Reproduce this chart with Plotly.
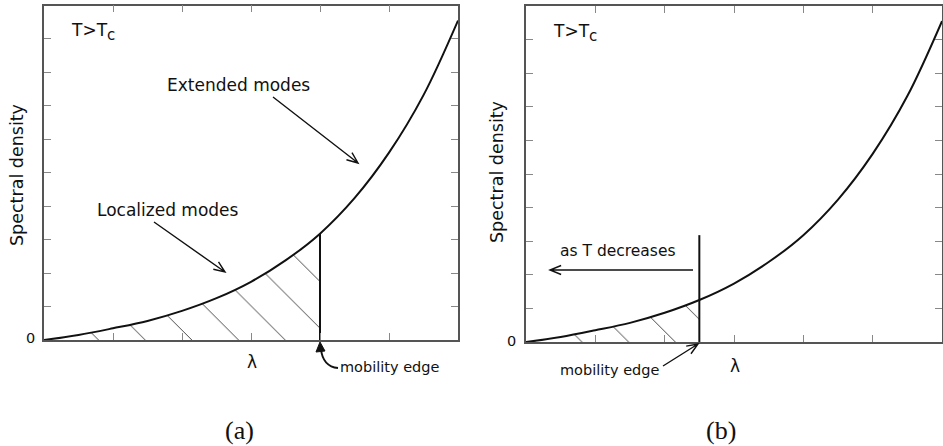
import math
import plotly.graph_objects as go

W, H = 943, 446

# Spectral density curve, sampled along the lambda axis
lam = [0.0, 0.5, 1.0, 1.5, 2.0, 2.5, 3.0, 3.5, 4.0, 4.5, 5.0, 5.5, 6.0]
density = [0.0, 0.15, 0.35, 0.57, 0.87, 1.25, 1.74, 2.38, 3.18, 4.24, 5.6, 7.32, 9.55]

# Mobility edge position in each panel
edge_a = 4.0
edge_b = 2.5
edge_height = density[lam.index(edge_a)]

x_ticks = [0, 1, 2, 3, 4, 5, 6]
y_ticks = list(range(0, 11))

LINE = "#111111"
TXT = "#111111"
FONT = "DejaVu Sans"


def P(x, y):
    """pixel position -> paper coordinates"""
    return x / W, 1 - y / H


def arrow_shapes(x0, y0, x1, y1, head=12, spread=22, width=1.4):
    """straight arrow with an open V head, pixel coordinates"""
    ang = math.atan2(y1 - y0, x1 - x0)
    a = math.radians(spread)
    hx1 = x1 - head * math.cos(ang - a)
    hy1 = y1 - head * math.sin(ang - a)
    hx2 = x1 - head * math.cos(ang + a)
    hy2 = y1 - head * math.sin(ang + a)

    def s(px, py):
        qx, qy = P(px, py)
        return f"{qx:.5f},{qy:.5f}"

    path = (f"M{s(x0, y0)} L{s(x1, y1)} M{s(hx1, hy1)} L{s(x1, y1)} L{s(hx2, hy2)}")
    return dict(type="path", xref="paper", yref="paper", path=path,
                line=dict(color=LINE, width=width))


fig = go.Figure()

pattern = dict(shape="\\", fgcolor="#222222", fgopacity=1, bgcolor="white",
               size=33, solidity=0.025)

for xa, ya, edge in (("x", "y", edge_a), ("x2", "y2", edge_b)):
    xs = [l for l in lam if l <= edge]
    ys = density[:len(xs)]
    # hatched region of localized modes
    fig.add_trace(go.Scatter(x=xs, y=ys, mode="lines", fill="tozeroy",
                             line=dict(width=0, shape="spline", color="rgba(0,0,0,0)"),
                             fillcolor="white", fillpattern=pattern,
                             xaxis=xa, yaxis=ya, hoverinfo="skip", showlegend=False))
    # density curve
    fig.add_trace(go.Scatter(x=lam, y=density, mode="lines",
                             line=dict(color=LINE, width=2, shape="spline"),
                             xaxis=xa, yaxis=ya, showlegend=False))
    # mobility edge
    fig.add_trace(go.Scatter(x=[edge, edge], y=[0, edge_height], mode="lines",
                             line=dict(color=LINE, width=2),
                             xaxis=xa, yaxis=ya, showlegend=False))

axis_common = dict(showline=True, linecolor="#555555", linewidth=1.5, mirror="ticks",
                   ticks="inside", ticklen=7, tickwidth=1.3, tickcolor="#888888",
                   showgrid=False, zeroline=False, showticklabels=False, fixedrange=True)

fig.update_layout(
    width=W, height=H, margin=dict(l=0, r=0, t=0, b=0),
    paper_bgcolor="white", plot_bgcolor="white",
    xaxis=dict(axis_common, domain=[44 / W, 458 / W], range=[0, 6], tickvals=x_ticks, anchor="y"),
    yaxis=dict(axis_common, domain=[1 - 340 / H, 1 - 5.5 / H], range=[0, 10], tickvals=y_ticks, anchor="x"),
    xaxis2=dict(axis_common, domain=[526 / W, 942 / W], range=[0, 6], tickvals=x_ticks, anchor="y2"),
    yaxis2=dict(axis_common, domain=[1 - 342 / H, 1 - 6 / H], range=[0, 10], tickvals=y_ticks, anchor="x2"),
)

ann = []


def text(px, py, s, size, anchor="center", angle=0, family=FONT):
    x, y = P(px, py)
    ann.append(dict(x=x, y=y, xref="paper", yref="paper", text=s, showarrow=False,
                    xanchor=anchor, yanchor="middle", textangle=angle,
                    font=dict(family=family, size=size, color=TXT)))


TC = "T>T<sub><span style='font-size:15px'>c</span></sub>"

# panel (a)
text(69, 32, TC, 17, "left")
text(165, 85, "Extended modes", 17, "left")
text(95, 210, "Localized modes", 17, "left")
text(17, 175, "Spectral density", 17.5, angle=-90)
text(37, 338, "0", 14.5, "right")
text(252, 362, "λ", 17)
text(338, 367, "mobility edge", 14.5, "left")
text(240, 430, "(a)", 26, family="Liberation Serif")

# panel (b)
text(551, 33, TC, 17, "left")
text(497, 172, "Spectral density", 17.5, angle=-90)
text(518, 341, "0", 14.5, "right")
text(735, 366, "λ", 17)
text(609, 370, "mobility edge", 14.5)
text(558, 251, "as T decreases", 15.5, "left")
text(721, 430, "(b)", 26, family="Liberation Serif")

shapes = [
    arrow_shapes(273, 97, 358, 163),
    arrow_shapes(154, 222, 225, 272),
    arrow_shapes(693, 270, 550, 270),
    arrow_shapes(663, 366, 698, 344),
]


def pp(px, py):
    qx, qy = P(px, py)
    return f"{qx:.5f},{qy:.5f}"


# curved pointer to the mobility edge in panel (a)
shapes.append(dict(type="path", xref="paper", yref="paper",
                   path=f"M{pp(338, 368)} C{pp(328, 367)} {pp(322, 360)} {pp(321, 349)}",
                   line=dict(color=LINE, width=2)))
shapes.append(dict(type="path", xref="paper", yref="paper",
                   path=f"M{pp(320, 342)} L{pp(316, 352)} L{pp(325, 351)} Z",
                   fillcolor=LINE, line=dict(color=LINE, width=1)))

fig.update_layout(annotations=ann, shapes=shapes)

fig.write_html("out.html")
